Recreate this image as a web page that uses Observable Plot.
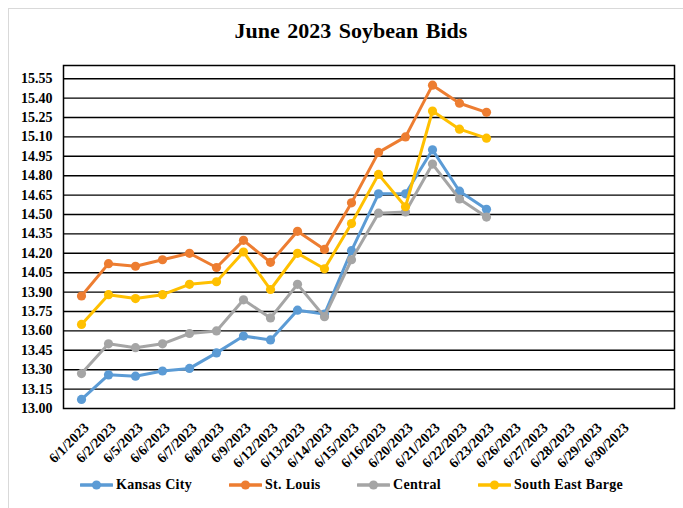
<!DOCTYPE html>
<html>
<head>
<meta charset="utf-8">
<script src="https://cdn.jsdelivr.net/npm/d3@7"></script>
<script src="https://cdn.jsdelivr.net/npm/@observablehq/plot@0.6"></script>
<style>
  html, body { margin: 0; padding: 0; background: #fff; }
  body { width: 683px; height: 508px; position: relative; overflow: hidden; font-family: "Liberation Serif", "Times New Roman", serif; }
  #outer { position: absolute; left: 8px; top: 8px; width: 720px; height: 540px; border-left: 1.5px solid #d9d9d9; border-top: 1.5px solid #d9d9d9; }
  #chart { position: absolute; left: 0; top: 0; }
  #title { position: absolute; left: 0; width: 702px; top: 18px; text-align: center; font-size: 22px; font-weight: bold; color: #000; word-spacing: 2px; }
  .leg { position: absolute; top: 476px; height: 18px; display: flex; align-items: center; font-size: 14px; font-weight: bold; color: #000; letter-spacing: 0.3px; white-space: nowrap; }
  .leg svg { margin-right: 3px; }
</style>
</head>
<body>
<div id="outer"></div>
<div id="chart"></div>
<div id="title">June 2023 Soybean Bids</div>
<div id="legend"></div>
<script>
const dates = ["6/1/2023","6/2/2023","6/5/2023","6/6/2023","6/7/2023","6/8/2023","6/9/2023","6/12/2023","6/13/2023","6/14/2023","6/15/2023","6/16/2023","6/20/2023","6/21/2023","6/22/2023","6/23/2023","6/26/2023","6/27/2023","6/28/2023","6/29/2023","6/30/2023"];
const seriesNames = ["Kansas City", "St. Louis", "Central", "South East Barge"];
const seriesColors = ["#5B9BD5", "#ED7D31", "#A5A5A5", "#FFC000"];
const kansasCity     = [13.07, 13.26, 13.25, 13.29, 13.31, 13.43, 13.56, 13.53, 13.76, 13.73, 14.22, 14.66, 14.66, 15.00, 14.68, 14.54];
const stLouis        = [13.87, 14.12, 14.10, 14.15, 14.20, 14.09, 14.30, 14.13, 14.37, 14.23, 14.59, 14.98, 15.10, 15.50, 15.36, 15.29];
const central        = [13.27, 13.50, 13.47, 13.50, 13.58, 13.60, 13.84, 13.70, 13.96, 13.71, 14.15, 14.51, 14.52, 14.89, 14.62, 14.48];
const southEastBarge = [13.65, 13.88, 13.85, 13.88, 13.96, 13.98, 14.21, 13.92, 14.20, 14.08, 14.43, 14.81, 14.56, 15.30, 15.16, 15.09];
const yTicks = [13.00, 13.15, 13.30, 13.45, 13.60, 13.75, 13.90, 14.05, 14.20, 14.35, 14.50, 14.65, 14.80, 14.95, 15.10, 15.25, 15.40, 15.55];

const seriesValues = [kansasCity, stLouis, central, southEastBarge];
const table = seriesNames.flatMap((name, i) =>
  seriesValues[i].map((v, j) => ({series: name, date: dates[j], value: v}))
);

const seriesMarks = seriesNames.flatMap(name => {
  const rows = table.filter(d => d.series === name);
  return [
    Plot.line(rows, {x: "date", y: "value", stroke: "series", strokeWidth: 3, strokeLinejoin: "round"}),
    Plot.dot(rows, {x: "date", y: "value", fill: "series", r: 4.6})
  ];
});

const chart = Plot.plot({
  width: 683,
  height: 508,
  marginLeft: 63,
  marginRight: 9,
  marginTop: 65,
  marginBottom: 100,
  style: {fontFamily: "'Liberation Serif', 'Times New Roman', serif", background: "transparent", color: "#000"},
  x: {type: "point", domain: dates, padding: 1, align: 0.25, label: null},
  y: {domain: [13.00, 15.652], label: null},
  color: {domain: seriesNames, range: seriesColors},
  marks: [
    Plot.ruleY(yTicks.slice(1), {stroke: "#000", strokeWidth: 1.4}),
    Plot.frame({stroke: "#000", strokeWidth: 1.5}),
    ...seriesMarks,
    Plot.axisY({ticks: yTicks, tickFormat: d => d.toFixed(2), tickSize: 0, tickPadding: 11, fontSize: 14, fontWeight: "bold", fill: "#000", label: null}),
    Plot.axisX({tickRotate: -45, tickSize: 0, tickPadding: 6, dx: 5, dy: 11, fontSize: 14, fontWeight: "bold", fill: "#000", label: null})
  ]
});
document.getElementById("chart").appendChild(chart);

const legendLeft = [80, 229, 357, 478];
const legend = document.getElementById("legend");
seriesNames.forEach((name, i) => {
  const item = document.createElement("div");
  item.className = "leg";
  item.style.left = legendLeft[i] + "px";
  item.innerHTML = `<svg width="33" height="12"><line x1="1" y1="6" x2="32" y2="6" stroke="${seriesColors[i]}" stroke-width="3.5" stroke-linecap="round"/><circle cx="16.5" cy="6" r="4.6" fill="${seriesColors[i]}"/></svg><span>${name}</span>`;
  legend.appendChild(item);
});
</script>
</body>
</html>
